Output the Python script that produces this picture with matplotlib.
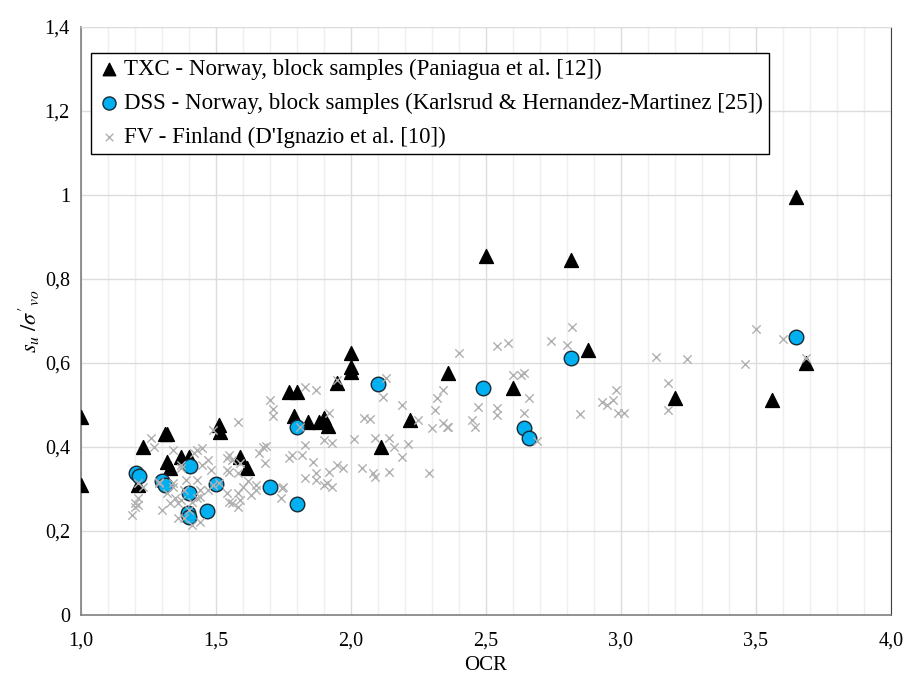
import matplotlib
matplotlib.use('Agg')
import matplotlib.pyplot as plt
import numpy as np

plt.rcParams['font.family'] = ['Liberation Serif', 'DejaVu Serif']
plt.rcParams['mathtext.fontset'] = 'stix'

# TXC - Norway, block samples
txc_ocr = [1.00, 1.00, 1.21, 1.23, 1.31, 1.32, 1.32, 1.33, 1.37, 1.40, 1.51, 1.515,
           1.59, 1.615, 1.77, 1.80, 1.79, 1.84, 1.88, 1.90, 1.915, 1.95, 2.00, 2.00,
           2.00, 2.11, 2.22, 2.36, 2.50, 2.60, 2.815, 2.877, 3.20, 3.56, 3.65, 3.685]
txc_su = [0.471, 0.31, 0.31, 0.40, 0.43, 0.43, 0.364, 0.35, 0.376, 0.376, 0.452, 0.436,
          0.376, 0.35, 0.53, 0.53, 0.474, 0.46, 0.46, 0.47, 0.45, 0.552, 0.624, 0.59,
          0.579, 0.40, 0.464, 0.576, 0.855, 0.54, 0.845, 0.63, 0.517, 0.512, 0.995, 0.60]

# DSS - Norway, block samples
dss_ocr = [1.204, 1.215, 1.30, 1.31, 1.404, 1.40, 1.397, 1.40, 1.50, 1.466,
           1.80, 1.70, 1.80, 2.10, 2.49, 2.815, 2.64, 2.66, 3.65]
dss_su = [0.338, 0.331, 0.32, 0.31, 0.355, 0.29, 0.243, 0.233, 0.312, 0.248,
          0.448, 0.305, 0.264, 0.55, 0.54, 0.612, 0.445, 0.422, 0.662]

# FV - Finland
fv_ocr = [1.19, 1.20, 1.20, 1.21, 1.21, 1.21, 1.23, 1.26, 1.27, 1.29, 1.29, 1.30,
          1.32, 1.33, 1.34, 1.34, 1.34, 1.35, 1.36, 1.36, 1.37, 1.37, 1.37, 1.38,
          1.38, 1.39, 1.40, 1.41, 1.41, 1.42, 1.43, 1.43, 1.43, 1.44, 1.44, 1.44,
          1.45, 1.45, 1.47, 1.47, 1.48, 1.49, 1.49, 1.51, 1.54, 1.54, 1.54, 1.55,
          1.55, 1.55, 1.56, 1.56, 1.58, 1.58, 1.58, 1.58, 1.59, 1.59, 1.60, 1.62,
          1.63, 1.65, 1.65, 1.66, 1.675, 1.68, 1.685, 1.70, 1.71, 1.71, 1.74, 1.745,
          1.75, 1.77, 1.78, 1.81, 1.82, 1.83, 1.83, 1.83, 1.86, 1.87, 1.87, 1.87,
          1.90, 1.90, 1.91, 1.92, 1.92, 1.93, 1.93, 1.95, 1.95, 1.97, 2.01, 2.04,
          2.05, 2.07, 2.08, 2.09, 2.09, 2.12, 2.13, 2.14, 2.14, 2.16, 2.19, 2.19,
          2.21, 2.25, 2.29, 2.30, 2.31, 2.32, 2.34, 2.34, 2.355, 2.36, 2.40, 2.45,
          2.46, 2.47, 2.54, 2.54, 2.54, 2.58, 2.60, 2.63, 2.64, 2.64, 2.66, 2.69,
          2.74, 2.80, 2.82, 2.85, 2.93, 2.95, 2.97, 2.98, 2.99, 3.01, 3.13, 3.175,
          3.175, 3.245, 3.46, 3.50, 3.60, 3.685]
fv_su = [0.238, 0.257, 0.267, 0.262, 0.279, 0.314, 0.305, 0.421, 0.400, 0.314, 0.317, 0.250,
         0.290, 0.267, 0.393, 0.305, 0.314, 0.279, 0.267, 0.231, 0.350, 0.357, 0.274, 0.231,
         0.298, 0.321, 0.250, 0.269, 0.214, 0.386, 0.393, 0.321, 0.279, 0.221, 0.281, 0.298,
         0.398, 0.357, 0.369, 0.298, 0.345, 0.440, 0.310, 0.314, 0.374, 0.345, 0.290, 0.381,
         0.340, 0.269, 0.369, 0.267, 0.460, 0.338, 0.290, 0.257, 0.362, 0.274, 0.305, 0.320,
         0.286, 0.298, 0.310, 0.386, 0.400, 0.362, 0.402, 0.512, 0.490, 0.474, 0.279, 0.302,
         0.305, 0.374, 0.381, 0.448, 0.380, 0.405, 0.543, 0.326, 0.364, 0.536, 0.338, 0.321,
         0.417, 0.310, 0.314, 0.481, 0.340, 0.410, 0.305, 0.560, 0.357, 0.350, 0.419, 0.350,
         0.469, 0.467, 0.338, 0.421, 0.329, 0.519, 0.564, 0.421, 0.340, 0.400, 0.500, 0.376,
         0.407, 0.464, 0.338, 0.445, 0.488, 0.517, 0.536, 0.457, 0.448, 0.448, 0.624, 0.464,
         0.448, 0.495, 0.640, 0.493, 0.476, 0.648, 0.571, 0.571, 0.576, 0.481, 0.517, 0.414,
         0.652, 0.643, 0.686, 0.479, 0.507, 0.500, 0.512, 0.536, 0.481, 0.481, 0.614, 0.552,
         0.488, 0.610, 0.598, 0.681, 0.657, 0.612]

labels = ['TXC - Norway, block samples (Paniagua et al. [12])',
          'DSS - Norway, block samples (Karlsrud & Hernandez-Martinez [25])',
          "FV - Finland (D'Ignazio et al. [10])"]

x_ticks = [1.0, 1.5, 2.0, 2.5, 3.0, 3.5, 4.0]
x_ticklabels = ['1,0', '1,5', '2,0', '2,5', '3,0', '3,5', '4,0']
y_ticks = [0, 0.2, 0.4, 0.6, 0.8, 1.0, 1.2, 1.4]
y_ticklabels = ['0', '0,2', '0,4', '0,6', '0,8', '1', '1,2', '1,4']

fig = plt.figure(figsize=(9.06, 6.8), dpi=100)
ax = fig.add_axes([0.0894, 0.0956, 0.894, 0.8647])

ax.scatter(txc_ocr, txc_su, marker='^', s=100, color='black', label=labels[0], zorder=3)
ax.scatter(dss_ocr, dss_su, marker='o', s=110, facecolor='#00b0f0', edgecolor='#1a2a33',
           linewidth=1.0, label=labels[1], zorder=4)
ax.scatter(fv_ocr, fv_su, marker='x', s=36, color='#b0b0b0', linewidth=1.0,
           label=labels[2], zorder=5)

ax.set_xlim(1.0, 4.0)
ax.set_ylim(0, 1.4)
ax.set_xticks(x_ticks)
ax.set_xticklabels(x_ticklabels)
ax.set_yticks(y_ticks)
ax.set_yticklabels(y_ticklabels)
ax.set_xticks(np.arange(1.0, 4.01, 0.1), minor=True)
ax.tick_params(which='both', length=0, labelsize=14.5, colors='black')
ax.tick_params(axis='x', pad=12)
ax.tick_params(axis='y', pad=8)

ax.grid(True, which='minor', axis='x', color='#efefef', linewidth=1.0, zorder=0)
ax.grid(True, which='major', axis='x', color='#dcdcdc', linewidth=1.0, zorder=0)
ax.grid(True, which='major', axis='y', color='#dcdcdc', linewidth=1.0, zorder=0)
ax.set_axisbelow(True)

for side in ['left', 'bottom']:
    ax.spines[side].set_color('#7f7f7f')
    ax.spines[side].set_linewidth(1.2)
ax.spines['right'].set_color('#404040')
ax.spines['top'].set_color('#dcdcdc')

ax.set_xlabel('OCR', fontsize=15, labelpad=4)
ax.set_ylabel(r"$s_u\ /\sigma'_{vo}$", fontsize=16, labelpad=2)

leg = ax.legend(loc='upper left', bbox_to_anchor=(0.0124, 0.956), fontsize=16.5,
                frameon=True, fancybox=False, edgecolor='black', framealpha=1,
                markerscale=0.9, handlelength=1.0, handletextpad=0.15,
                borderpad=0.28, labelspacing=0.55, borderaxespad=0)
leg.get_frame().set_linewidth(1.0)

fig.savefig('out.png', dpi=100)
